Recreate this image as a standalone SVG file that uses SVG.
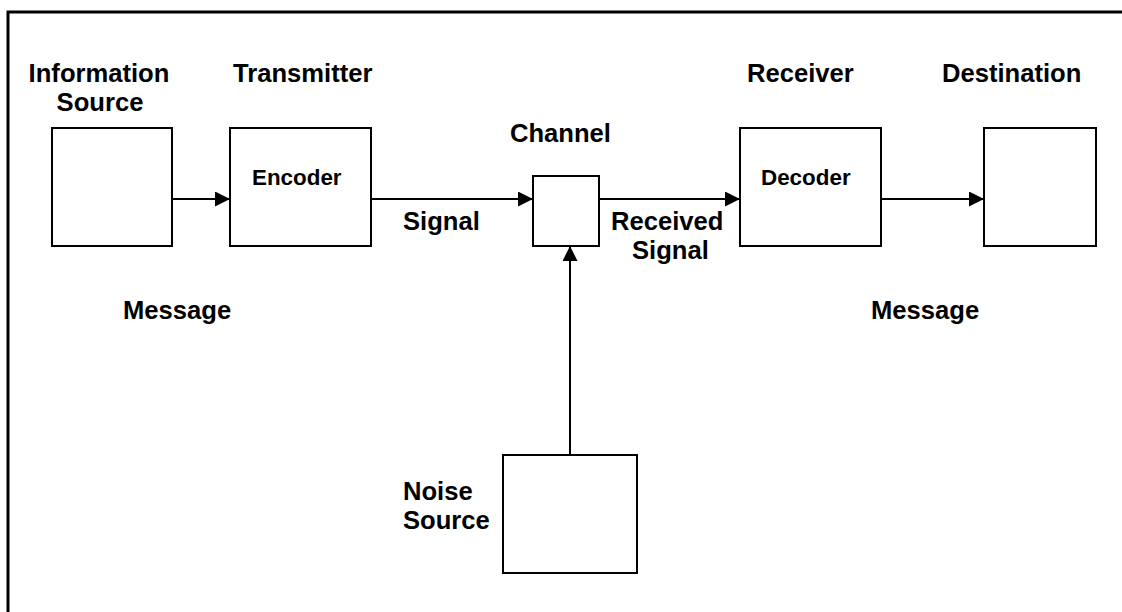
<svg xmlns="http://www.w3.org/2000/svg" width="1122" height="612" viewBox="0 0 1122 612">
  <style>
    .box { fill: #ffffff; stroke: #000000; stroke-width: 2; }
    .lbl { font-family: "Liberation Sans", Arial, sans-serif; font-weight: bold; font-size: 25.6px; fill: #000000; }
    .inner { font-family: "Liberation Sans", Arial, sans-serif; font-weight: bold; font-size: 22.4px; fill: #000000; }
    .conn { fill: none; stroke: #000000; stroke-width: 2; }
  </style>
  <defs>
    <marker id="arrow" markerUnits="userSpaceOnUse" markerWidth="16" markerHeight="16" refX="15" refY="7.5" orient="auto">
      <path d="M0,0 L15,7.5 L0,15 Z" fill="#000000"/>
    </marker>
  </defs>
  <rect x="0" y="0" width="1122" height="612" fill="#ffffff"/>
  <path d="M8,612 V12 H1122" fill="none" stroke="#000000" stroke-width="3"/>

  <g id="information-source">
    <rect class="box" x="52" y="128" width="120" height="118"/>
    <text class="lbl" x="99" y="82" text-anchor="middle">Information</text>
    <text class="lbl" x="100" y="111" text-anchor="middle">Source</text>
  </g>
  <g id="transmitter">
    <rect class="box" x="230" y="128" width="141" height="118"/>
    <text class="lbl" x="233" y="82">Transmitter</text>
    <text class="inner" x="252" y="185">Encoder</text>
  </g>
  <g id="channel">
    <rect class="box" x="533" y="176" width="66" height="70"/>
    <text class="lbl" x="510" y="142">Channel</text>
  </g>
  <g id="receiver">
    <rect class="box" x="740" y="128" width="141" height="118"/>
    <text class="lbl" x="747" y="82">Receiver</text>
    <text class="inner" x="761" y="185">Decoder</text>
  </g>
  <g id="destination">
    <rect class="box" x="984" y="128" width="112" height="118"/>
    <text class="lbl" x="942" y="82">Destination</text>
  </g>
  <g id="noise-source">
    <rect class="box" x="503" y="455" width="134" height="118"/>
    <text class="lbl" x="403" y="500">Noise</text>
    <text class="lbl" x="403" y="529">Source</text>
  </g>

  <g id="connectors">
    <line class="conn" x1="172" y1="199" x2="230" y2="199" marker-end="url(#arrow)"/>
    <line class="conn" x1="371" y1="199" x2="533" y2="199" marker-end="url(#arrow)"/>
    <line class="conn" x1="599" y1="199" x2="740" y2="199" marker-end="url(#arrow)"/>
    <line class="conn" x1="881" y1="199" x2="984" y2="199" marker-end="url(#arrow)"/>
    <line class="conn" x1="570" y1="455" x2="570" y2="246" marker-end="url(#arrow)"/>
    <text class="lbl" x="403" y="230">Signal</text>
    <text class="lbl" x="611" y="230">Received</text>
    <text class="lbl" x="632" y="259">Signal</text>
    <text class="lbl" x="123" y="319">Message</text>
    <text class="lbl" x="871" y="319">Message</text>
  </g>
</svg>
